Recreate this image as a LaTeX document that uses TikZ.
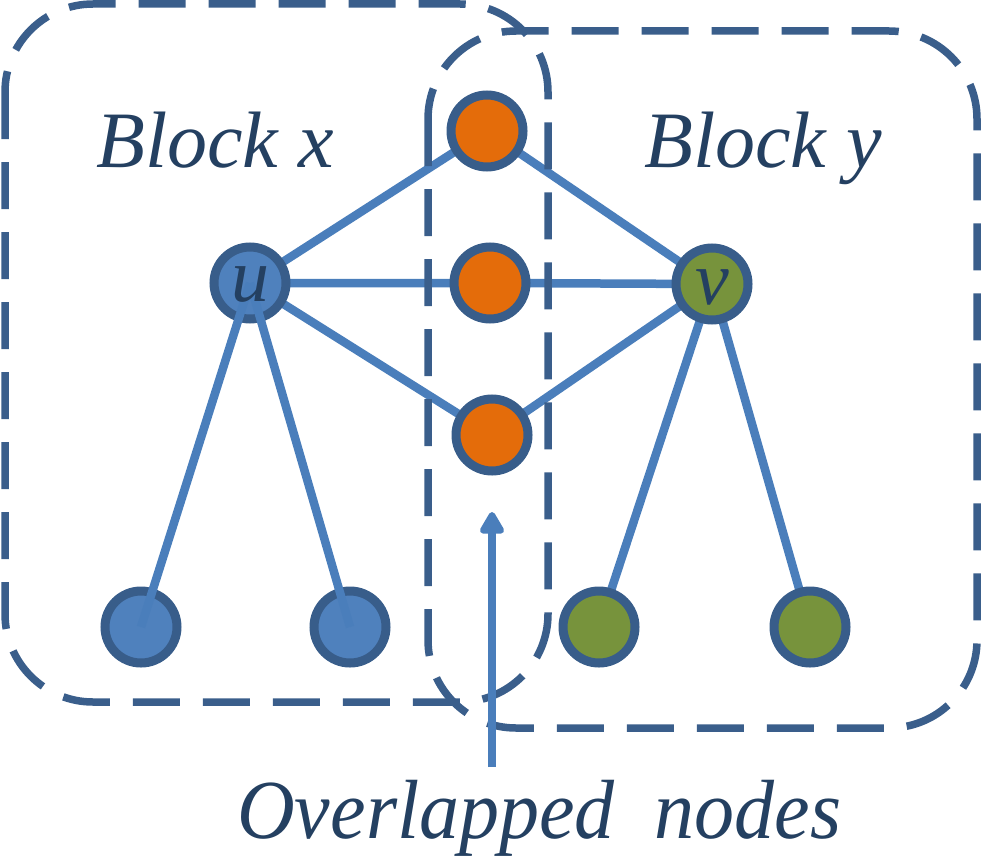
\documentclass[tikz,border=0pt]{standalone}
\usepackage{fontspec}
\setmainfont{Liberation Serif}
\usetikzlibrary{arrows.meta}
\definecolor{dashcol}{RGB}{58,94,139}
\definecolor{ndborder}{RGB}{56,93,138}
\definecolor{bluefill}{RGB}{79,129,189}
\definecolor{orangefill}{RGB}{228,108,10}
\definecolor{greenfill}{RGB}{119,147,60}
\definecolor{edgecol}{RGB}{74,126,187}
\definecolor{txtcol}{RGB}{36,64,97}
\tikzset{
  nd/.style={circle, draw=ndborder, line width=9pt, minimum size=72pt, inner sep=0pt},
  bnd/.style={nd, fill=bluefill},
  ond/.style={nd, fill=orangefill},
  gnd/.style={nd, fill=greenfill},
  edgeline/.style={draw=edgecol, line width=8.5pt},
  blockbox/.style={draw=dashcol, line width=7.5pt, dash pattern=on 47pt off 23pt, rounded corners=88pt},
  bigtext/.style={text=txtcol, font=\fontsize{80}{90}\selectfont\itshape, inner sep=0pt},
  lettertext/.style={text=txtcol, font=\fontsize{76}{80}\selectfont\itshape, inner sep=0pt}
}
\begin{document}
\begin{tikzpicture}[x=1pt,y=-1pt]
\useasboundingbox (0,0) rectangle (981,864);
% node positions
\coordinate (uc) at (250,283);
\coordinate (vc) at (712,284);
\coordinate (o1c) at (487,131);
\coordinate (o2c) at (490,283);
\coordinate (o3c) at (492,435);
\coordinate (g1c) at (599,627);
\coordinate (g2c) at (810,627);
% edges under nodes
\draw[edgeline] (uc) -- (o1c) (uc) -- (o2c) (uc) -- (o3c);
\draw[edgeline] (vc) -- (o1c) (vc) -- (o2c) (vc) -- (o3c);
\draw[edgeline] (vc) -- (g1c) (vc) -- (g2c);
% blocks
\draw[blockbox] (5,4) rectangle (548,702);
\draw[blockbox] (428,31) rectangle (977,728);
% nodes
\node[bnd] (u) at (uc) {};
\node[gnd] (v) at (vc) {};
\node[ond] (o1) at (o1c) {};
\node[ond] (o2) at (o2c) {};
\node[ond] (o3) at (o3c) {};
\node[bnd] (b1) at (141,627) {};
\node[bnd] (b2) at (350,627) {};
\node[gnd] (g1) at (g1c) {};
\node[gnd] (g2) at (g2c) {};
% lines on top from u to bottom blue nodes
\draw[edgeline] (u.center) -- (b1.center);
\draw[edgeline] (u.center) -- (b2.center);
% letters
\node[lettertext] (ul) at (250,285) {u};
\node[lettertext] (vl) at (712,287) {v};
% labels
\node[bigtext, anchor=base west] (bx) at (96,167) {Block x};
\node[bigtext, anchor=base west] (by) at (644,167) {Block y};
\node[bigtext, anchor=base west] (ov) at (237,838) {\scalebox{1}[1.05]{Overlapped\ \ nodes}};
\coordinate (arrtail) at (492,767);
\coordinate (arrtip) at (492,512);
\draw[draw=edgecol, line width=8pt, -{Triangle[length=25pt,width=27pt,round]}] (arrtail) -- (arrtip);
\end{tikzpicture}
\end{document}
